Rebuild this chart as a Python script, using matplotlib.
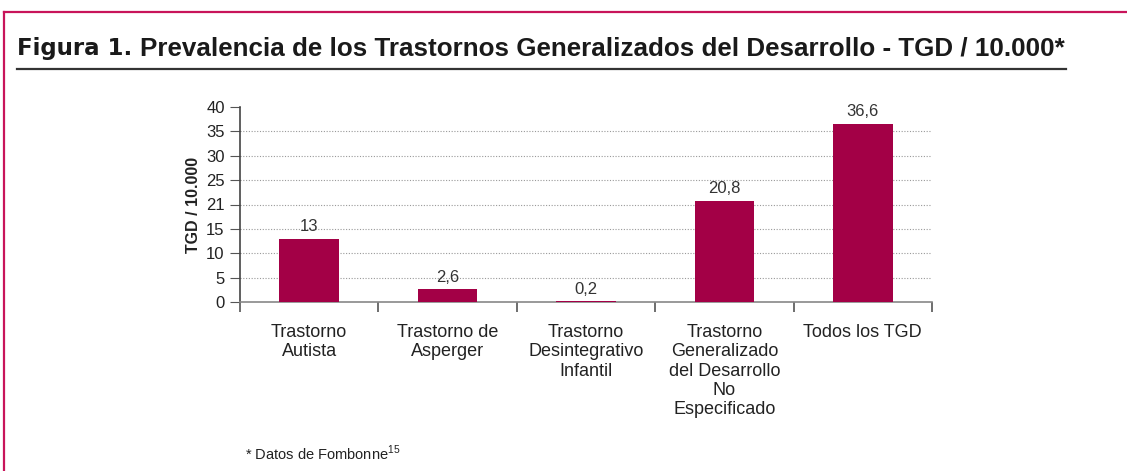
import matplotlib
matplotlib.use("Agg")
import matplotlib.pyplot as plt
from matplotlib.lines import Line2D

plt.rcParams['font.family'] = ['Liberation Sans', 'DejaVu Sans']
plt.rcParams['mathtext.fontset'] = 'custom'
plt.rcParams['mathtext.rm'] = 'Liberation Sans'

categories = ["Trastorno\nAutista", "Trastorno de\nAsperger",
              "Trastorno\nDesintegrativo\nInfantil",
              "Trastorno\nGeneralizado\ndel Desarrollo\nNo\nEspecificado",
              "Todos los TGD"]
values = [13, 2.6, 0.2, 20.8, 36.6]
value_labels = ["13", "2,6", "0,2", "20,8", "36,6"]
ytick_values = [0, 5, 10, 15, 20, 25, 30, 35, 40]
ytick_labels = ["0", "5", "10", "15", "21", "25", "30", "35", "40"]

W, H = 1127, 471
fig = plt.figure(figsize=(W / 100, H / 100), dpi=100)
fig.patch.set_facecolor('white')

border = '#C8145A'
fig.add_artist(Line2D([4 / W, 1], [1 - 12 / H, 1 - 12 / H], transform=fig.transFigure,
                      color=border, lw=1.6))
fig.add_artist(Line2D([4 / W, 4 / W], [0, 1 - 12 / H], transform=fig.transFigure,
                      color=border, lw=1.6))

# Title
t1 = fig.text(17 / W, 1 - 48 / H, "Figura 1.", fontsize=16.5, fontweight='heavy',
              family=['DejaVu Sans'], color='#1a1a1a', va='center', ha='left')
fig.canvas.draw()
bb = t1.get_window_extent()
fig.text((bb.x1 + 8) / W, 1 - 48 / H,
         "Prevalencia de los Trastornos Generalizados del Desarrollo - TGD / 10.000*",
         fontsize=18.7, fontweight='bold', color='#1a1a1a', va='center', ha='left')
fig.add_artist(Line2D([17 / W, 1066 / W], [1 - 69 / H, 1 - 69 / H], transform=fig.transFigure,
                      color='#333333', lw=1.6))

ax = fig.add_axes([240 / W, 1 - 302 / H, (932 - 240) / W, (302 - 107) / H])
x = list(range(len(categories)))
ax.bar(x, values, width=0.43, color='#A30046', zorder=3)
ax.set_xlim(-0.5, len(categories) - 0.5)
ax.set_ylim(0, 40)

for xi, v, lab in zip(x, values, value_labels):
    ax.annotate(lab, (xi, v), xytext=(0, 3), textcoords='offset points',
                ha='center', va='bottom', fontsize=12, color='#333333')

ax.set_yticks(ytick_values)
ax.set_yticklabels(ytick_labels, fontsize=12, color='#222222')
for yv in ytick_values[1:-1]:
    ax.axhline(yv, color='#999999', lw=0.8, ls=(0, (1, 1.5)), zorder=1)

ax.set_xticks(x)
ax.set_xticklabels(categories, fontsize=13, color='#222222', linespacing=1.17, va='top')
ax.tick_params(axis='x', which='major', length=0, pad=16)
ax.set_xticks([i - 0.5 for i in range(len(categories) + 1)], minor=True)
ax.tick_params(axis='x', which='minor', length=7, width=1.2, color='#555555', direction='out')
ax.tick_params(axis='y', length=7, width=0.8, color='#555555', pad=4)

for s in ['top', 'right']:
    ax.spines[s].set_visible(False)
ax.spines['left'].set_color('#444444')
ax.spines['left'].set_linewidth(1.2)
ax.spines['bottom'].set_color('#888888')
ax.spines['bottom'].set_linewidth(1.2)

ax.set_ylabel("TGD / 10.000", fontsize=11.5, fontweight='bold', color='#222222', labelpad=4)

fig.text(245 / W, 1 - 453 / H, "* Datos de Fombonne$^{\\mathregular{15}}$", fontsize=10.5,
         color='#222222', va='center', ha='left')

fig.savefig("out.png", dpi=100, facecolor='white')
